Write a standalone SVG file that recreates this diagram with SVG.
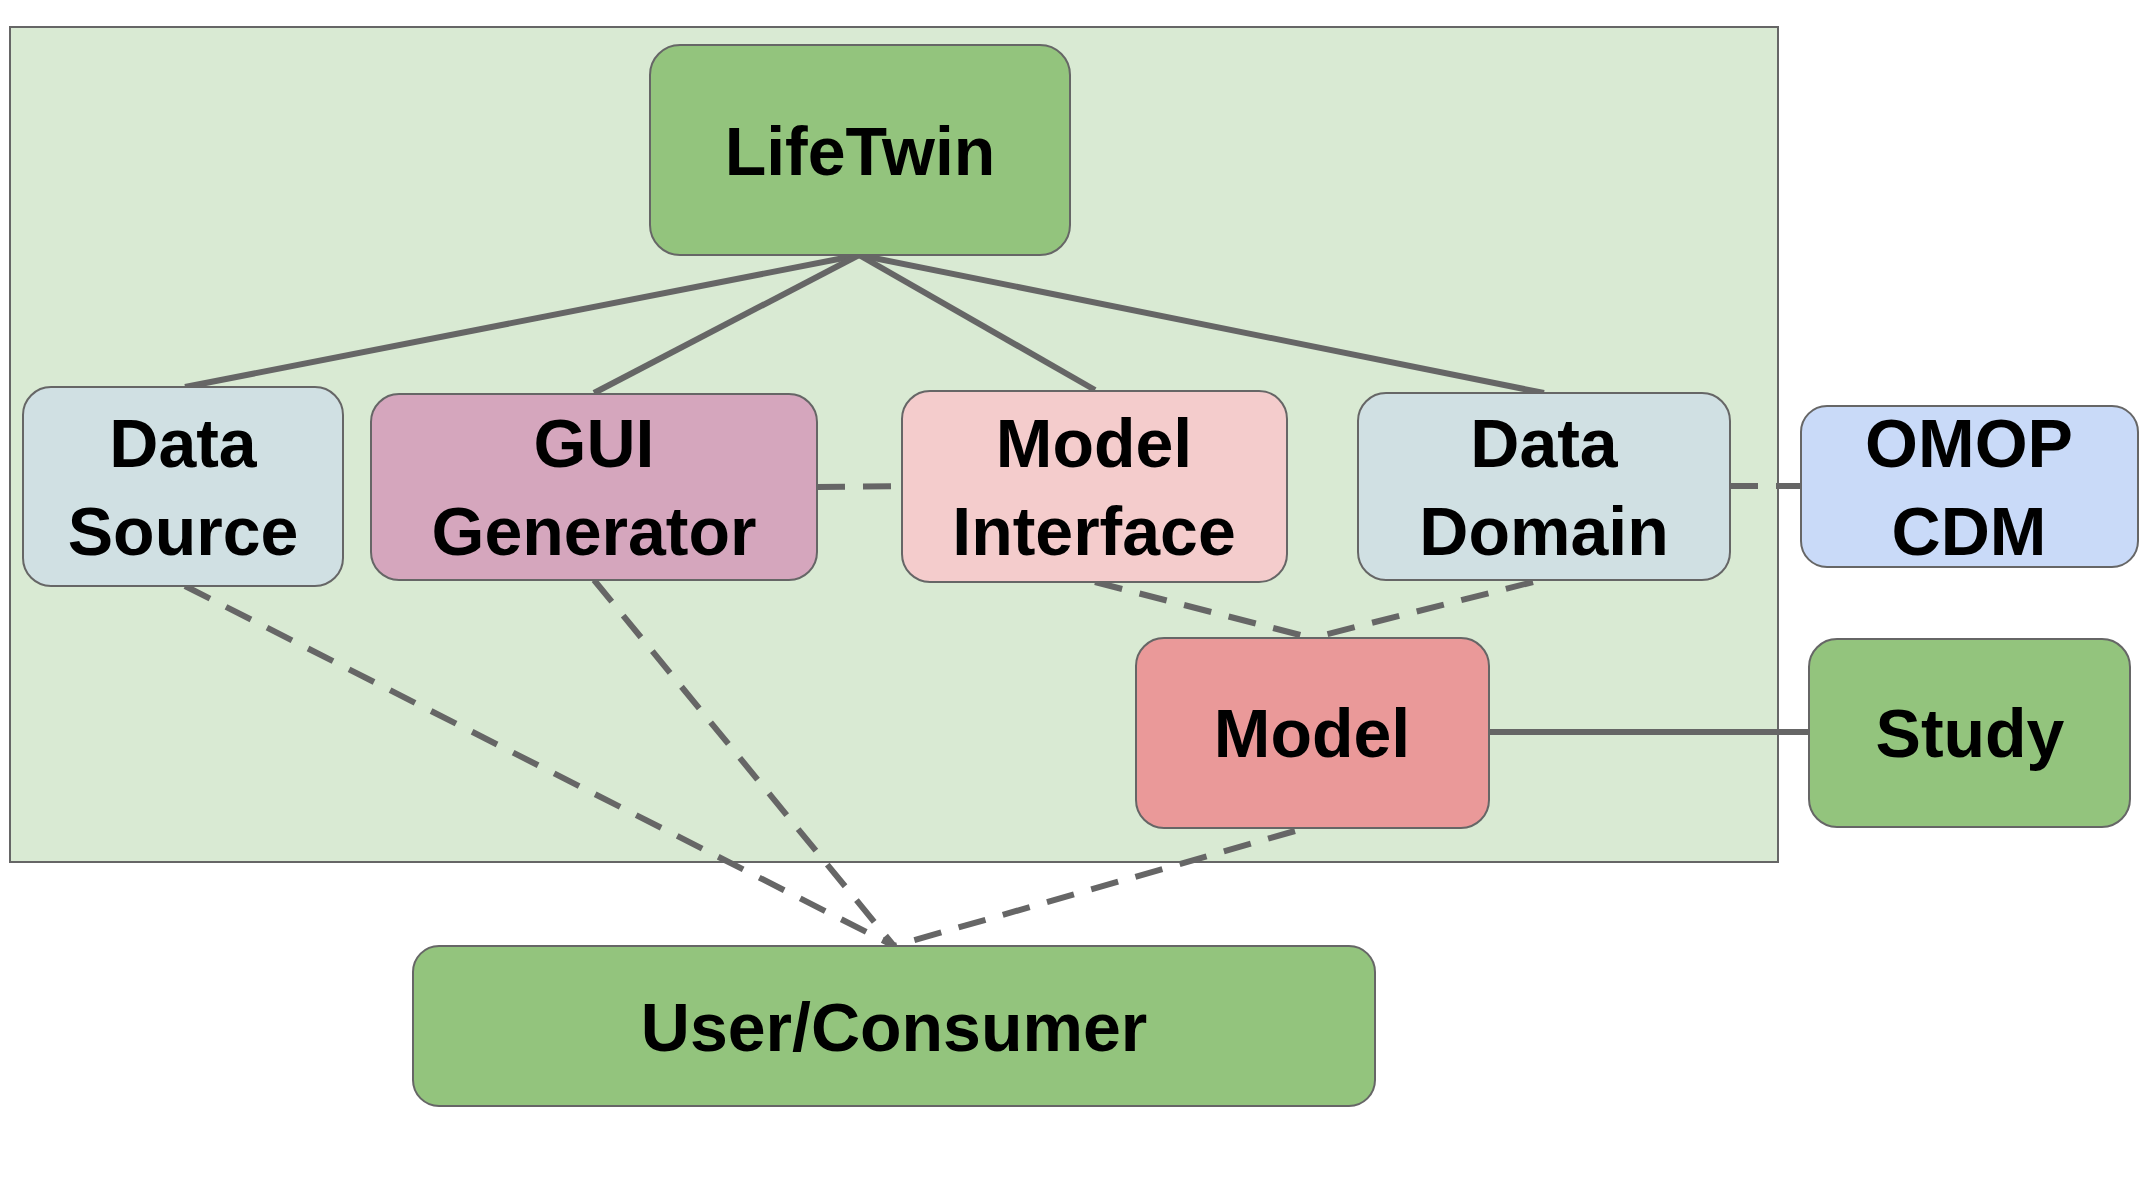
<svg xmlns="http://www.w3.org/2000/svg" width="2146" height="1201" viewBox="0 0 2146 1201">
<style>
.n{stroke:#666;stroke-width:2}
.t{font-family:"Liberation Sans",Arial,sans-serif;font-weight:bold;font-size:68px;text-anchor:middle;fill:#000}
.s{stroke:#666;stroke-width:6;fill:none}
.d{stroke:#666;stroke-width:6;fill:none;stroke-dasharray:28 18}
</style>
<rect width="2146" height="1201" fill="#fff"/>
<rect x="10" y="27" width="1768" height="835" fill="#d9ead3" stroke="#666" stroke-width="2"/>
<g id="connectors">
<line class="s" x1="859" y1="255" x2="185" y2="387"/>
<line class="s" x1="859" y1="255" x2="594" y2="393"/>
<line class="s" x1="859" y1="255" x2="1095" y2="390"/>
<line class="s" x1="859" y1="255" x2="1544" y2="393"/>
<line class="d" x1="817" y1="487" x2="902" y2="486"/>
<line class="d" x1="1730" y1="486" x2="1801" y2="486"/>
<line class="d" x1="1095" y1="582" x2="1312" y2="638"/>
<line class="d" x1="1533" y1="582" x2="1312" y2="638"/>
<line class="s" x1="1489" y1="732" x2="1809" y2="732"/>
<line class="d" x1="185" y1="586" x2="894" y2="946"/>
<line class="d" x1="594" y1="580" x2="894" y2="946"/>
<line class="d" x1="1295" y1="831" x2="894" y2="946"/>
</g>
<g id="lifetwin"><rect class="n" x="650" y="45" width="420" height="210" rx="30" fill="#93c47d"/><text class="t" x="860" y="175" font-size="72">LifeTwin</text></g>
<g id="datasource"><rect class="n" x="23" y="387" width="320" height="199" rx="28" fill="#d0e0e3"/><text class="t" x="183" y="467">Data</text><text class="t" x="183" y="555">Source</text></g>
<g id="gui"><rect class="n" x="371" y="394" width="446" height="186" rx="28" fill="#d5a6bd"/><text class="t" x="594" y="467">GUI</text><text class="t" x="594" y="555">Generator</text></g>
<g id="modelinterface"><rect class="n" x="902" y="391" width="385" height="191" rx="28" fill="#f4cccc"/><text class="t" x="1094" y="467">Model</text><text class="t" x="1094" y="555">Interface</text></g>
<g id="datadomain"><rect class="n" x="1358" y="393" width="372" height="187" rx="28" fill="#d0e0e3"/><text class="t" x="1544" y="467">Data</text><text class="t" x="1544" y="555">Domain</text></g>
<g id="omop"><rect class="n" x="1801" y="406" width="337" height="161" rx="26" fill="#c9daf8"/><text class="t" x="1969" y="467">OMOP</text><text class="t" x="1969" y="555">CDM</text></g>
<g id="model"><rect class="n" x="1136" y="638" width="353" height="190" rx="28" fill="#ea9999"/><text class="t" x="1312" y="757">Model</text></g>
<g id="study"><rect class="n" x="1809" y="639" width="321" height="188" rx="28" fill="#93c47d"/><text class="t" x="1970" y="757">Study</text></g>
<g id="user"><rect class="n" x="413" y="946" width="962" height="160" rx="26" fill="#93c47d"/><text class="t" x="894" y="1051">User/Consumer</text></g>
</svg>
